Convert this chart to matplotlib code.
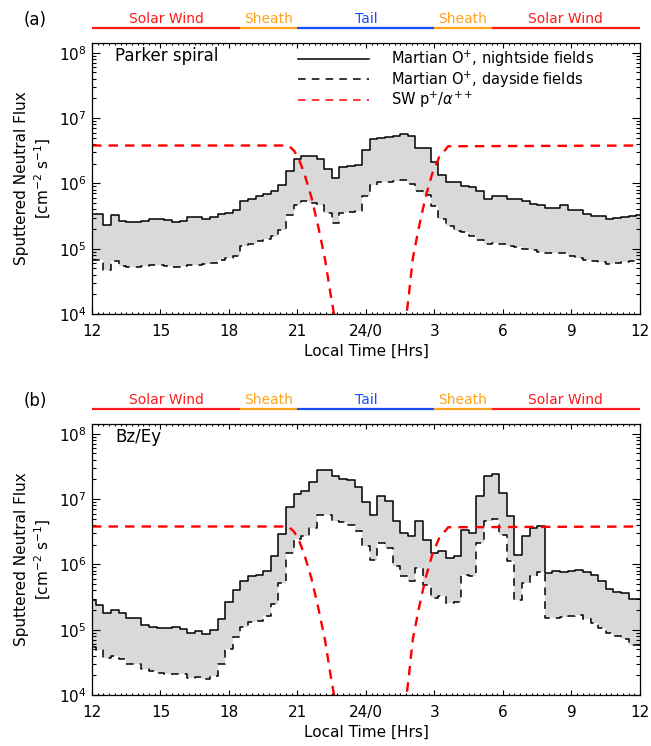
import numpy as np
import matplotlib.pyplot as plt
from matplotlib.lines import Line2D
from matplotlib.ticker import FixedLocator, MultipleLocator, LogLocator, NullFormatter

plt.rcParams['font.family'] = 'DejaVu Sans'
plt.rcParams['mathtext.fontset'] = 'dejavusans'

# local time bin centres, 20 min bins, 12 -> 24/0 -> 12 (plotted as 12..36)
lt = np.arange(73) / 3.0 + 12.0

# (a) Parker spiral, sputtered neutral flux [cm^-2 s^-1]
park_night = [3.40e5, 3.40e5, 2.33e5, 3.24e5, 2.68e5, 2.59e5, 2.59e5, 2.62e5, 2.88e5, 2.84e5,
              2.78e5, 2.56e5, 2.68e5, 3.02e5, 3.02e5, 2.88e5, 3.09e5, 3.44e5, 3.52e5, 3.95e5,
              5.37e5, 5.83e5, 6.32e5, 6.95e5, 7.73e5, 9.55e5, 1.53e6, 2.36e6, 2.65e6, 2.59e6,
              2.39e6, 1.67e6, 1.21e6, 1.76e6, 1.82e6, 1.89e6, 3.20e6, 4.77e6, 4.94e6, 5.12e6,
              5.24e6, 5.62e6, 5.24e6, 3.47e6, 3.47e6, 2.09e6, 1.36e6, 1.04e6, 1.04e6, 9.21e5,
              8.69e5, 7.55e5, 5.83e5, 6.32e5, 6.47e5, 5.76e5, 5.76e5, 5.30e5, 4.88e5, 4.60e5,
              4.19e5, 4.19e5, 4.71e5, 3.95e5, 3.95e5, 3.44e5, 3.13e5, 3.13e5, 2.88e5, 2.94e5,
              3.05e5, 3.20e5, 3.31e5]
park_day = [6.79e4, 6.63e4, 4.77e4, 6.40e4, 5.37e4, 5.24e4, 5.24e4, 5.37e4, 5.62e4, 5.56e4,
            5.50e4, 5.24e4, 5.37e4, 5.69e4, 5.69e4, 5.89e4, 6.04e4, 6.79e4, 7.20e4, 7.63e4,
            1.09e5, 1.19e5, 1.30e5, 1.42e5, 1.54e5, 1.91e5, 3.31e5, 4.71e5, 5.43e5, 5.00e5,
            4.71e5, 3.52e5, 2.47e5, 3.52e5, 3.60e5, 3.73e5, 6.32e5, 9.55e5, 1.04e6, 1.06e6,
            1.07e6, 1.11e6, 9.88e5, 7.55e5, 6.72e5, 4.44e5, 2.84e5, 2.20e5, 1.84e5, 1.78e5,
            1.54e5, 1.37e5, 1.19e5, 1.22e5, 1.19e5, 1.11e5, 1.06e5, 9.89e4, 9.43e4, 8.79e4,
            8.59e4, 8.59e4, 8.59e4, 7.63e4, 7.20e4, 6.79e4, 6.40e4, 6.18e4, 5.89e4, 6.04e4,
            6.18e4, 6.40e4, 6.63e4]

# (b) Bz/Ey
bz_night = [2.84e5, 2.36e5, 1.82e5, 1.98e5, 1.82e5, 1.53e5, 1.53e5, 1.16e5, 1.10e5, 1.07e5,
            1.05e5, 1.10e5, 1.04e5, 8.99e4, 9.55e4, 8.69e4, 9.77e4, 1.44e5, 2.69e5, 4.00e5,
            5.56e5, 6.62e5, 6.87e5, 7.91e5, 1.32e6, 2.94e6, 7.45e6, 1.19e7, 1.31e7, 1.80e7,
            2.81e7, 2.81e7, 2.22e7, 2.02e7, 1.93e7, 1.53e7, 8.89e6, 5.75e6, 1.10e7, 9.20e6,
            4.55e6, 3.02e6, 2.75e6, 4.55e6, 2.39e6, 1.49e6, 1.58e6, 1.25e6, 1.32e6, 3.40e6,
            3.02e6, 1.10e7, 2.28e7, 2.44e7, 1.24e7, 5.56e6, 1.41e6, 2.75e6, 3.60e6, 3.82e6,
            7.36e5, 7.82e5, 7.55e5, 8.00e5, 8.28e5, 7.55e5, 6.79e5, 5.50e5, 4.19e5, 3.78e5,
            3.64e5, 2.94e5, 2.94e5]
bz_day = [5.43e4, 4.83e4, 3.72e4, 3.95e4, 3.60e4, 3.02e4, 3.02e4, 2.47e4, 2.33e4, 2.20e4,
          2.12e4, 2.12e4, 2.07e4, 1.84e4, 1.89e4, 1.74e4, 1.95e4, 2.94e4, 5.00e4, 7.73e4,
          1.10e5, 1.32e5, 1.36e5, 1.62e5, 2.44e5, 5.24e5, 1.49e6, 2.44e6, 2.69e6, 3.60e6,
          5.75e6, 5.75e6, 4.55e6, 4.40e6, 3.95e6, 3.20e6, 1.89e6, 1.18e6, 2.12e6, 1.78e6,
          9.31e5, 6.55e5, 5.50e5, 8.79e5, 4.89e5, 3.05e5, 3.24e5, 2.56e5, 2.62e5, 6.95e5,
          6.55e5, 2.12e6, 4.55e6, 4.94e6, 2.84e6, 1.11e6, 2.88e5, 5.18e5, 6.55e5, 7.55e5,
          1.51e5, 1.51e5, 1.56e5, 1.60e5, 1.66e5, 1.46e5, 1.26e5, 1.06e5, 8.89e4, 7.91e4,
          7.19e4, 5.89e4, 5.89e4]

# solar wind p+/alpha++ sputtering (same in both panels)
sw_lt_dusk = [12.0, 20.6, 20.85, 21.05, 21.3, 21.6, 21.9, 22.2, 22.45, 22.65]
sw_f_dusk = [3.8e6, 3.8e6, 3.16e6, 2.4e6, 1.41e6, 6.3e5, 2.24e5, 7.1e4, 2.0e4, 7.9e3]
sw_lt_dawn = [25.7, 25.85, 26.05, 26.3, 26.6, 26.9, 27.2, 27.6, 36.0]
sw_f_dawn = [6.3e3, 1.6e4, 7.1e4, 2.0e5, 6.0e5, 1.41e6, 2.5e6, 3.7e6, 3.8e6]

regions = ['Solar Wind', 'Sheath', 'Tail', 'Sheath', 'Solar Wind']
region_edges = [12, 18.5, 21, 27, 29.5, 36]
region_colors = ['#ff1a1a', '#ffa31a', '#1a4cff', '#ffa31a', '#ff1a1a']

xticks = [12, 15, 18, 21, 24, 27, 30, 33, 36]
xticklabels = ['12', '15', '18', '21', '24/0', '3', '6', '9', '12']

fig = plt.figure(figsize=(6.51, 7.46), dpi=100)
ax_a = fig.add_axes([0.1413, 0.5791, 0.8418, 0.3633])
ax_b = fig.add_axes([0.1413, 0.0684, 0.8418, 0.3633])


def panel(ax, night, day, tag, name):
    ax.fill_between(lt, day, night, step='mid', color='#d9d9d9', lw=0)
    ax.step(lt, night, where='mid', color='k', lw=1.1)
    ax.step(lt, day, where='mid', color='k', lw=1.1, ls=(0, (5, 4)))
    ax.plot(sw_lt_dusk, sw_f_dusk, color='red', lw=1.7, ls=(0, (4, 3)))
    ax.plot(sw_lt_dawn, sw_f_dawn, color='red', lw=1.7, ls=(0, (4, 3)))

    ax.set_yscale('log')
    ax.set_xlim(12, 36)
    ax.set_ylim(1e4, 10 ** 8.15)
    ax.xaxis.set_major_locator(FixedLocator(xticks))
    ax.set_xticklabels(xticklabels)
    ax.xaxis.set_minor_locator(MultipleLocator(0.25))
    ax.yaxis.set_major_locator(LogLocator(base=10, numticks=10))
    ax.yaxis.set_minor_locator(LogLocator(base=10, subs=np.arange(2, 10), numticks=20))
    ax.yaxis.set_minor_formatter(NullFormatter())
    ax.tick_params(which='both', direction='in', top=True, right=True, labelsize=11, width=0.8)
    ax.tick_params(axis='x', which='major', length=3.5, pad=7)
    ax.tick_params(axis='x', which='minor', length=1.6)
    ax.tick_params(axis='y', which='major', length=6, pad=4)
    ax.tick_params(axis='y', which='minor', length=3)
    for s in ax.spines.values():
        s.set_linewidth(0.9)

    ax.set_xlabel('Local Time [Hrs]', fontsize=11, labelpad=4)
    ax.set_ylabel('Sputtered Neutral Flux\n[cm$^{-2}$ s$^{-1}$]', fontsize=11,
                  labelpad=4, linespacing=1.25)

    tr = ax.get_xaxis_transform()
    for i in range(len(regions)):
        x0, x1 = region_edges[i], region_edges[i + 1]
        ax.plot([x0, x1], [1.055, 1.055], transform=tr, color=region_colors[i], lw=1.6,
                clip_on=False, solid_capstyle='butt')
        ax.text((x0 + x1) / 2, 1.072, regions[i], transform=tr, ha='center', va='baseline',
                color=region_colors[i], fontsize=10)

    ax.text(-0.104, 1.085, tag, transform=ax.transAxes, ha='center', va='center', fontsize=12)
    ax.text(0.042, 0.952, name, transform=ax.transAxes, ha='left', va='center', fontsize=12)


panel(ax_a, park_night, park_day, '(a)', 'Parker spiral')
panel(ax_b, bz_night, bz_day, '(b)', 'Bz/Ey')

handles = [Line2D([], [], color='k', lw=1.1),
           Line2D([], [], color='k', lw=1.1, ls=(0, (5, 4))),
           Line2D([], [], color='red', lw=1.1, ls=(0, (5, 4)))]
labels = ['Martian O$^{+}$, nightside fields', 'Martian O$^{+}$, dayside fields',
          r'SW p$^{+}$/$\alpha^{++}$']
ax_a.legend(handles, labels, loc='upper left', bbox_to_anchor=(0.376, 0.978), frameon=False,
            fontsize=10.5, handlelength=4.9, handletextpad=1.5, labelspacing=0.0,
            borderpad=0, borderaxespad=0)

fig.savefig('out.png', dpi=100)
